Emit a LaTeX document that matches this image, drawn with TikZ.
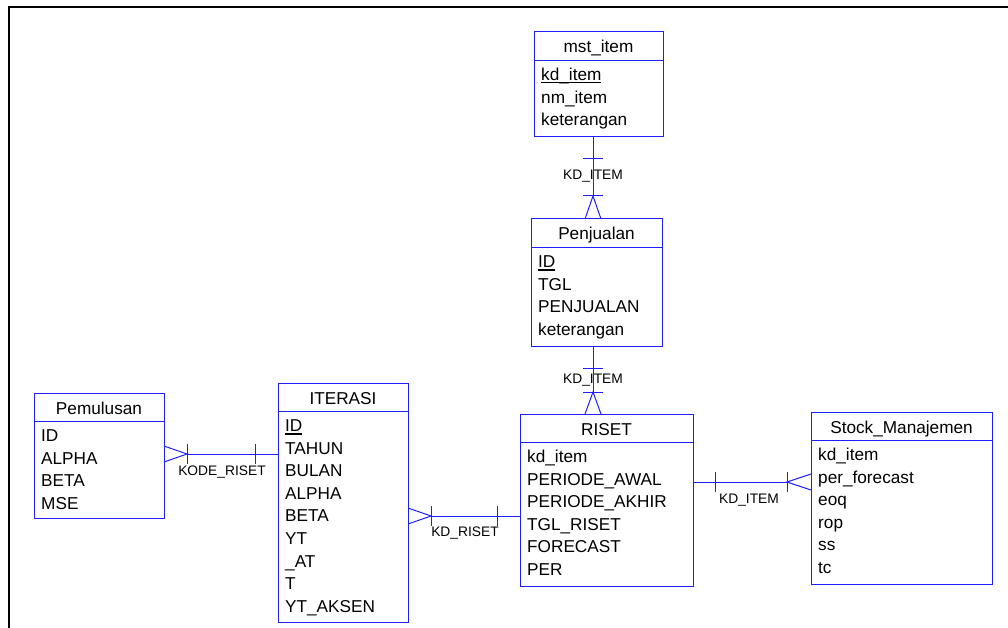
\documentclass[tikz,border=0pt]{standalone}
\usepackage{fontspec}
\setmainfont{Liberation Sans}
\usetikzlibrary{calc}
\definecolor{erblue}{RGB}{30,30,255}
% primary-key attributes are underlined with a heavy rule
\newcommand\keyattr[1]{\setbox0\hbox{#1}\rlap{\rule[-3pt]{\wd0}{1.4pt}}\box0}
\tikzset{
  ebox/.style={draw=erblue, line width=1pt, inner sep=0pt, outer sep=0pt},
  eline/.style={draw=erblue, line width=1pt},
  etitle/.style={anchor=base, inner sep=0pt, font=\fontsize{17.2}{20}\selectfont},
  eattr/.style={anchor=base west, inner sep=0pt, font=\fontsize{17.2}{20}\selectfont},
  rlabel/.style={anchor=base, inner sep=0pt, font=\fontsize{13.8}{16}\selectfont},
}
% entity: name, left, top, width, height, title, attribute list
\newcommand\entbox[7]{%
  \node[ebox, minimum width=#4pt, minimum height=#5pt, anchor=north west] (#1) at (#2,#3) {};
  \draw[eline] ($(#1.north west)+(0,28.5)$) -- ($(#1.north east)+(0,28.5)$);
  \node[etitle] (#1-title) at ($(#1.north)+(0,21)$) {#6};
  \foreach \rowtext [count=\i] in {#7} {
    \node[eattr] (#1-\i) at ($(#1.north west)+(7,{48.5+22.6*(\i-1)})$) {\rowtext};
  }
}
\begin{document}
\begin{tikzpicture}[x=1pt, y=-1pt]
\useasboundingbox (0,0) rectangle (1008,628);
% page frame
\draw[black, line width=1.6pt] (9,629) -- (9,7) -- (1009,7);

% entities
\entbox{mst}{534}{32}{129}{105}{mst\_item}{{\keyattr{kd\_item}}, nm\_item, keterangan}
\entbox{pen}{531}{219}{131}{127}{Penjualan}{{\keyattr{ID}}, TGL, PENJUALAN, keterangan}
\entbox{riset}{520}{414}{173}{172}{RISET}{kd\_item, PERIODE\_AWAL, PERIODE\_AKHIR, TGL\_RISET, FORECAST, PER}
\entbox{iter}{278}{383}{130}{239}{ITERASI}{{\keyattr{ID}}, TAHUN, BULAN, ALPHA, BETA, YT, \_AT, T, YT\_AKSEN}
\entbox{pem}{34}{393}{130}{125}{Pemulusan}{ID, ALPHA, BETA, MSE}
\entbox{stock}{811}{412}{181}{172}{Stock\_Manajemen}{kd\_item, per\_forecast, eoq, rop, ss, tc}

% guide coordinates for the relationship lines
\coordinate (vx) at (593,0);
\coordinate (h1) at (0,454);
\coordinate (h2) at (0,516);
\coordinate (h3) at (0,482);

% mst_item 1 -- N Penjualan
\coordinate (a1) at (mst.south -| vx);
\coordinate (a2) at ($(pen.north -| vx)+(0,-23)$);
\draw[eline] (a1) -- (a2);
\draw[eline] ($(a1)+(-10,22)$) -- ($(a1)+(10,22)$);
\draw[eline] ($(a2)+(-10,0)$) -- ($(a2)+(10,0)$);
\draw[eline] ($(pen.north -| vx)+(-8,0)$) -- (a2) -- ($(pen.north -| vx)+(8,0)$);
\node[rlabel] (l1) at (593,180) {KD\_ITEM};

% Penjualan 1 -- N RISET
\coordinate (b1) at (pen.south -| vx);
\coordinate (b2) at ($(riset.north -| vx)+(0,-22)$);
\draw[eline] (b1) -- (b2);
\draw[eline] ($(b1)+(-10,22)$) -- ($(b1)+(10,22)$);
\draw[eline] ($(b2)+(-10,0)$) -- ($(b2)+(10,0)$);
\draw[eline] ($(riset.north -| vx)+(-8,0)$) -- (b2) -- ($(riset.north -| vx)+(8,0)$);
\node[rlabel] (l2) at (593,383) {KD\_ITEM};

% ITERASI 1 -- N Pemulusan
\coordinate (c1) at (iter.west |- h1);
\coordinate (c2) at ($(pem.east |- h1)+(23,0)$);
\draw[eline] (c1) -- (c2);
\draw[eline] ($(c1)+(-23,-10)$) -- ($(c1)+(-23,10)$);
\draw[eline] ($(c2)+(0,-10)$) -- ($(c2)+(0,10)$);
\draw[eline] ($(pem.east |- h1)+(0,-8)$) -- (c2) -- ($(pem.east |- h1)+(0,8)$);
\node[rlabel] (l3) at (222,475) {KODE\_RISET};

% RISET 1 -- N ITERASI
\coordinate (d1) at (riset.west |- h2);
\coordinate (d2) at ($(iter.east |- h2)+(23,0)$);
\draw[eline] (d1) -- (d2);
\draw[eline] ($(d1)+(-23,-10)$) -- ($(d1)+(-23,10)$);
\draw[eline] ($(d2)+(0,-10)$) -- ($(d2)+(0,10)$);
\draw[eline] ($(iter.east |- h2)+(0,-8)$) -- (d2) -- ($(iter.east |- h2)+(0,8)$);
\node[rlabel] (l4) at (465,536) {KD\_RISET};

% RISET 1 -- N Stock_Manajemen
\coordinate (e1) at (riset.east |- h3);
\coordinate (e2) at ($(stock.west |- h3)+(-24,0)$);
\draw[eline] (e1) -- (e2);
\draw[eline] ($(e1)+(22,-10)$) -- ($(e1)+(22,10)$);
\draw[eline] ($(e2)+(0,-10)$) -- ($(e2)+(0,10)$);
\draw[eline] ($(stock.west |- h3)+(0,-8)$) -- (e2) -- ($(stock.west |- h3)+(0,8)$);
\node[rlabel] (l5) at (749,503) {KD\_ITEM};
\end{tikzpicture}
\end{document}
